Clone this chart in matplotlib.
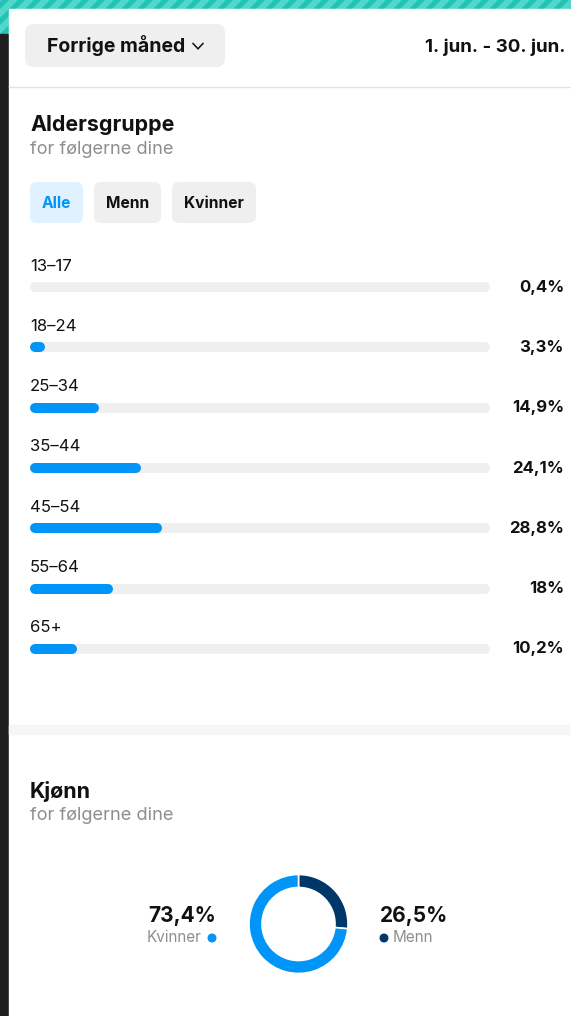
import matplotlib
matplotlib.use("Agg")
import matplotlib.pyplot as plt
from matplotlib.patches import FancyBboxPatch, Rectangle, Polygon, Circle
import matplotlib.transforms as mtransforms

plt.rcParams['font.family'] = ['Inter', 'DejaVu Sans']

# data
age_groups = ['13–17', '18–24', '25–34', '35–44', '45–54', '55–64', '65+']
age_share = [0.4, 3.3, 14.9, 24.1, 28.8, 18.0, 10.2]
age_labels = ['0,4%', '3,3%', '14,9%', '24,1%', '28,8%', '18%', '10,2%']

gender_names = ['Menn', 'Kvinner']
gender_share = [26.5, 73.4]
gender_labels = ['26,5%', '73,4%']

filters = ['Alle', 'Menn', 'Kvinner']
period_button = 'Forrige måned'
period_text = '1. jun. - 30. jun.'

BLUE = '#0095f6'
NAVY = '#00376b'
TRACK = '#efefef'
GREY_TXT = '#8e8e8e'
BLACK = '#111111'

W, H = 571, 1016
fig = plt.figure(figsize=(W / 100, H / 100), dpi=100)
fig.patch.set_facecolor('white')

# background canvas in pixel units
bg = fig.add_axes([0, 0, 1, 1])
bg.set_xlim(0, W)
bg.set_ylim(H, 0)
bg.axis('off')

# teal striped band + dark left strip
bg.add_patch(Rectangle((0, 0), W, 9, color='#22c3b4', zorder=0))
bg.add_patch(Rectangle((0, 0), 9, 34, color='#22c3b4', zorder=0))
for sx in range(-40, W + 40, 16):
    bg.add_patch(Polygon([(sx, 34), (sx + 7, 34), (sx + 41, 0), (sx + 34, 0)],
                         color='#52d6c9', zorder=0.5))
bg.add_patch(Rectangle((0, 34), 9, H - 34, color='#1f1f1f', zorder=1))
bg.add_patch(Rectangle((9, 9), W - 9, H - 9, color='white', zorder=1))

# header
bg.add_patch(FancyBboxPatch((25, 24), 200, 43, boxstyle='round,pad=0,rounding_size=9',
                            fc=TRACK, ec='none', zorder=2))
bg.text(47, 46, period_button, ha='left', va='center', fontsize=14,
        fontweight='bold', color=BLACK, zorder=3)
bg.plot([193, 198, 203], [43.5, 48.8, 43.5], color=BLACK, lw=1.1,
        solid_joinstyle='miter', zorder=3)
bg.text(565, 47, period_text, ha='right', va='center', fontsize=13.5,
        fontweight='bold', color=BLACK, zorder=3)
bg.plot([9, W], [86.5, 86.5], color='#e4e4e4', lw=1, zorder=2)

# age section titles
bg.text(30, 125, 'Aldersgruppe', ha='left', va='center', fontsize=15.4,
        fontweight='bold', color=BLACK, zorder=3)
bg.text(30, 150, 'for følgerne dine', ha='left', va='center', fontsize=13.1,
        color=GREY_TXT, zorder=3)

# filter chips
chip_x = [30, 94, 172]
chip_w = [53, 67, 84]
for name, x0, w in zip(filters, chip_x, chip_w):
    active = name == 'Alle'
    bg.add_patch(FancyBboxPatch((x0, 182), w, 41, boxstyle='round,pad=0,rounding_size=7',
                                fc='#e0f1ff' if active else TRACK, ec='none', zorder=2))
    bg.text(x0 + w / 2, 203, name, ha='center', va='center', fontsize=11.2,
            fontweight='bold', color=BLUE if active else BLACK, zorder=3)

# section separator
bg.add_patch(Rectangle((9, 725), W - 9, 9, color='#f6f6f6', zorder=2))

bg.text(30, 792, 'Kjønn', ha='left', va='center', fontsize=15.4,
        fontweight='bold', color=BLACK, zorder=3)
bg.text(30, 816, 'for følgerne dine', ha='left', va='center', fontsize=13.1,
        color=GREY_TXT, zorder=3)

# age bars
left_px, right_px = 30, 490
top_px, bot_px = 257, 679
bar_ax = fig.add_axes([left_px / W, 1 - bot_px / H, (right_px - left_px) / W, (bot_px - top_px) / H])
bar_ax.set_xlim(0, 100)
bar_ax.set_ylim(len(age_groups) - 0.5, -0.5)
bar_ax.axis('off')
bar_ax.patch.set_alpha(0)

lw_pt = 10 * 72 / 100
cap = 5 * 100 / (right_px - left_px)  # cap radius in data units
trans = mtransforms.blended_transform_factory(bar_ax.transAxes, bar_ax.transData)
for i, (grp, v, lab) in enumerate(zip(age_groups, age_share, age_labels)):
    bar_ax.hlines(i, cap, 100 - cap, color=TRACK, lw=lw_pt, capstyle='round', zorder=1)
    # the app does not render a fill narrower than its rounded cap
    if v > 2 * cap:
        bar_ax.hlines(i, cap, v - cap, color=BLUE, lw=lw_pt, capstyle='round', zorder=2)
    bar_ax.text(0, i - 0.35, grp, ha='left', va='center', fontsize=12, color=BLACK)
    bar_ax.text((564 - left_px) / (right_px - left_px), i, lab, transform=trans,
                ha='right', va='center', fontsize=12.1, fontweight='bold', color=BLACK,
                clip_on=False)

# gender donut
cx, cy, box = 298.5, 924, 110
pie_ax = fig.add_axes([(cx - box / 2) / W, 1 - (cy + box / 2) / H, box / W, box / H])
pie_ax.pie(gender_share, colors=[NAVY, BLUE], startangle=90, counterclock=False,
           radius=0.99, wedgeprops=dict(width=0.26, edgecolor='white', linewidth=1.2))
pie_ax.set_xlim(-1.1, 1.1)
pie_ax.set_ylim(-1.1, 1.1)
pie_ax.set_aspect('equal')
pie_ax.axis('off')

# donut side labels
bg.text(216, 916, gender_labels[1], ha='right', va='center', fontsize=15,
        fontweight='bold', color=BLACK, zorder=3)
bg.text(202, 938, gender_names[1], ha='right', va='center', fontsize=11,
        color=GREY_TXT, zorder=3)
bg.add_patch(Circle((212, 938), 3.8, color=BLUE, zorder=3))

bg.text(380, 916, gender_labels[0], ha='left', va='center', fontsize=15,
        fontweight='bold', color=BLACK, zorder=3)
bg.add_patch(Circle((384, 938), 3.8, color=NAVY, zorder=3))
bg.text(393, 938, gender_names[0], ha='left', va='center', fontsize=11,
        color=GREY_TXT, zorder=3)

fig.savefig('out.png', dpi=100, facecolor='white')
